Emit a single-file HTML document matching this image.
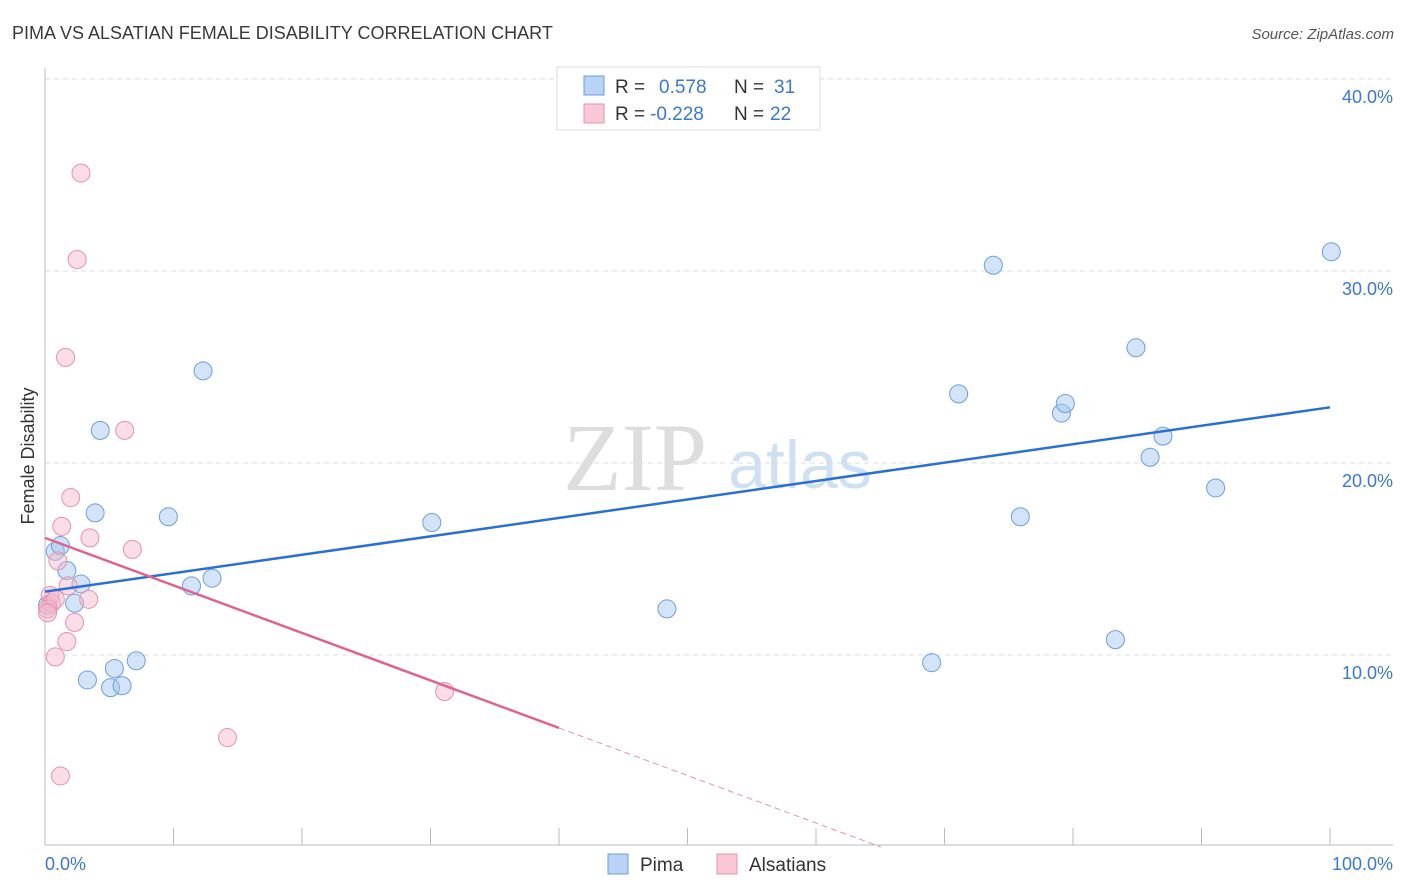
<!DOCTYPE html>
<html><head><meta charset="utf-8"><style>
body{margin:0;background:#fff;font-family:"Liberation Sans",sans-serif;}
svg{display:block}
</style></head><body>
<svg width="1406" height="892">
<text x="12" y="39" font-size="18" fill="#3a3a3a">PIMA VS ALSATIAN FEMALE DISABILITY CORRELATION CHART</text>
<text x="1394" y="39" font-size="15" fill="#555" font-style="italic" text-anchor="end">Source: ZipAtlas.com</text>
<text x="635" y="490" font-size="96" fill="#ddd" font-family="Liberation Serif,serif" text-anchor="middle">ZIP</text>
<text x="800" y="488" font-size="68" fill="#cfe0f3" text-anchor="middle">atlas</text>
<g id="grid"></g>
<g id="axes"></g>
<g id="marks"></g>
<text x="34" y="456" font-size="18" fill="#333" text-anchor="middle" transform="rotate(-90 34 456)">Female Disability</text>
<text x="45" y="870" font-size="18" fill="#3a78d4">0.0%</text>
<text x="1393" y="870" font-size="18" fill="#3a78d4" text-anchor="end">100.0%</text>
<g>
<rect x="557" y="67" width="263" height="63" fill="#fff" stroke="#ddd"/>
<rect x="584" y="76" width="20" height="19" fill="#b9d3f5" stroke="#6a9ee0"/>
<rect x="584" y="104" width="20" height="19" fill="#f8c8d6" stroke="#e890ac"/>
<text x="615" y="93" font-size="19" fill="#333">R = <tspan x="659" fill="#3a78d4">0.578</tspan><tspan x="734" fill="#333">N = </tspan><tspan x="774" fill="#3a78d4">31</tspan></text>
<text x="615" y="120" font-size="19" fill="#333">R = <tspan x="650" fill="#3a78d4">-0.228</tspan><tspan x="734" fill="#333">N = </tspan><tspan x="770" fill="#3a78d4">22</tspan></text>
</g>
<g>
<rect x="608" y="854" width="20" height="20" fill="#b9d3f5" stroke="#6a9ee0"/>
<text x="640" y="871" font-size="19" fill="#333">Pima</text>
<rect x="717" y="854" width="20" height="20" fill="#f8c8d6" stroke="#e890ac"/>
<text x="749" y="871" font-size="19" fill="#333">Alsatians</text>
</g>
</svg>
<script>
const yTicks=[10,20,30,40];
const yTickLabels=["10.0%","20.0%","30.0%","40.0%"];
const xTicks=[10,20,30,40,50,60,70,80,90,100];
const pimaX=[0.8,1.2,1.7,2.8,2.3,3.9,4.3,12.3,9.6,11.4,13.0,30.1,48.4,3.3,5.1,6.0,5.4,7.1,69.0,73.8,71.1,75.9,79.1,79.4,83.3,84.9,86.0,87.0,91.1,100.1,0.2];
const pimaY=[15.4,15.7,14.4,13.7,12.7,17.4,21.7,24.8,17.2,13.6,14.0,16.9,12.4,8.7,8.3,8.4,9.3,9.7,9.6,30.3,23.6,17.2,22.6,23.1,10.8,26.0,20.3,21.4,18.7,31.0,12.6];
const alsX=[2.8,2.5,1.6,6.2,2.0,1.3,3.5,6.8,1.0,1.8,3.4,2.3,1.7,0.8,31.1,14.2,1.2,0.4,0.5,0.2,0.8,0.2];
const alsY=[35.1,30.6,25.5,21.7,18.2,16.7,16.1,15.5,14.9,13.6,12.9,11.7,10.7,9.9,8.1,5.7,3.7,13.1,12.7,12.4,12.9,12.2];
const pimaLine=[13.3,22.9];
const alsLine=[16.1,-0.2475];
const NS="http://www.w3.org/2000/svg";
const X=v=>45+v*12.85, Y=v=>847-v*19.2;
function mk(tag,at,parent){const e=document.createElementNS(NS,tag);for(const k in at)e.setAttribute(k,at[k]);document.getElementById(parent).appendChild(e);return e;}
yTicks.forEach((t,i)=>{
 const g=mk('line',{x1:45,x2:1393,y1:Y(t),y2:Y(t),stroke:'#ddd','stroke-dasharray':'5,4'},'grid');
 
 
 const l=mk('text',{x:1393,y:Y(t)+24,'font-size':18,fill:'#3a78d4','text-anchor':'end'},'grid');
 l.textContent=yTickLabels[i];
 
 
});
let a=mk('line',{x1:45,x2:45,y1:68,y2:845,stroke:'#bbb'},'axes');


a=mk('line',{x1:45,x2:1393,y1:845,y2:845,stroke:'#bbb'},'axes');


xTicks.forEach(t=>{
 const e=mk('line',{x1:X(t),x2:X(t),y1:828,y2:845,stroke:'#bbb'},'axes');
 
 
});
pimaX.forEach((v,i)=>{
 const c=mk('circle',{cx:X(v),cy:Y(pimaY[i]),r:9,fill:'rgba(160,196,240,0.45)',stroke:'#6a9ee0','stroke-width':1},'marks');
 
 
});
alsX.forEach((v,i)=>{
 const c=mk('circle',{cx:X(v),cy:Y(alsY[i]),r:9,fill:'rgba(245,180,200,0.45)',stroke:'#e890ac','stroke-width':1},'marks');
 
 
});
let ln=mk('line',{x1:X(0),y1:Y(pimaLine[0]),x2:X(100),y2:Y(pimaLine[1]),stroke:'#2a6fd6','stroke-width':2.5},'marks');


const xEnd=40, xZero=-alsLine[0]/alsLine[1];
ln=mk('line',{x1:X(0),y1:Y(alsLine[0]),x2:X(xEnd),y2:Y(alsLine[0]+alsLine[1]*xEnd),stroke:'#e2628f','stroke-width':2.5},'marks');


ln=mk('line',{x1:X(xEnd),y1:Y(alsLine[0]+alsLine[1]*xEnd),x2:X(xZero),y2:Y(0),stroke:'#e890ac','stroke-width':1,'stroke-dasharray':'6,4'},'marks');


</script>
</body></html>
